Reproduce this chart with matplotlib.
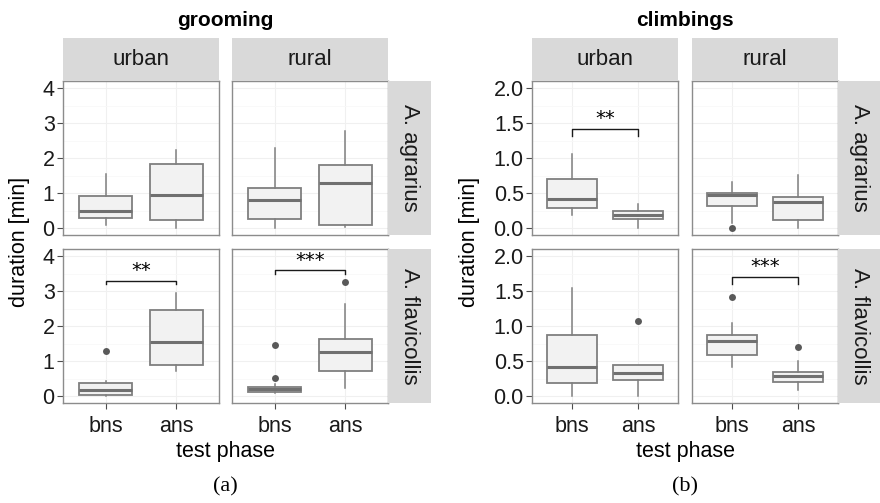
import matplotlib
matplotlib.use('Agg')
import matplotlib.pyplot as plt
from matplotlib.ticker import FixedLocator

W, H = 880, 503

phases = ['bns', 'ans']
sites = ['urban', 'rural']
species = ['A. agrarius', 'A. flavicollis']

# box statistics, indexed [species][site][phase]
groom_whislo = [[[0.10, 0.00], [0.00, 0.02]], [[0.00, 0.71], [0.08, 0.22]]]
groom_q1 = [[[0.29, 0.24], [0.27, 0.09]], [[0.03, 0.90], [0.12, 0.72]]]
groom_med = [[[0.50, 0.93], [0.80, 1.29]], [[0.17, 1.53], [0.20, 1.27]]]
groom_q3 = [[[0.91, 1.82], [1.14, 1.79]], [[0.38, 2.47], [0.27, 1.63]]]
groom_whishi = [[[1.53, 2.24], [2.30, 2.78]], [[0.43, 2.95], [0.34, 2.64]]]
groom_fliers = [[[[], []], [[], []]], [[[1.28], []], [[0.51, 1.47], [3.25]]]]
groom_sig = [['', ''], ['**', '***']]
groom_sig_y = [[None, None], [3.30, 3.59]]

climb_whislo = [[[0.19, 0.00], [0.07, 0.00]], [[0.00, 0.00], [0.42, 0.09]]]
climb_q1 = [[[0.29, 0.13], [0.31, 0.12]], [[0.19, 0.23], [0.58, 0.20]]]
climb_med = [[[0.42, 0.18], [0.47, 0.37]], [[0.42, 0.33], [0.79, 0.28]]]
climb_q3 = [[[0.70, 0.25], [0.50, 0.45]], [[0.87, 0.44], [0.87, 0.34]]]
climb_whishi = [[[1.06, 0.34], [0.66, 0.76]], [[1.55, 0.44], [1.05, 0.50]]]
climb_fliers = [[[[], []], [[0.0], []]], [[[], [1.07]], [[1.41], [0.70]]]]
climb_sig = [['**', ''], ['', '***']]
climb_sig_y = [[1.41, None], [None, 1.70]]

FONT = 'Liberation Sans'
STRIP = '#d9d9d9'
BORDER = '#8c8c8c'
BOXC = '#7f7f7f'


def fax(fig, x0, y0, x1, y1):
    # pixel box (top-left origin) -> figure axes
    return fig.add_axes([x0 / W, 1 - y1 / H, (x1 - x0) / W, (y1 - y0) / H])


def strip(fig, box, label, rot=0):
    ax = fax(fig, *box)
    ax.set_facecolor(STRIP)
    for s in ax.spines.values():
        s.set_visible(False)
    ax.set_xticks([])
    ax.set_yticks([])
    ax.text(0.5, 0.5, label, transform=ax.transAxes, ha='center',
            va='center', rotation=rot, fontsize=16, family=FONT,
            color='#1a1a1a')


def facet(fig, cols, rows, strip_right, title, title_x, ylab_x,
          lab_x, tag, ylim, yticks, yfmt, minor, drop, stats, fliers,
          sig, sig_y):
    whislo, q1, med, q3, whishi = stats
    for i in range(2):
        for j in range(2):
            x0, x1 = cols[j]
            y0, y1 = rows[i]
            ax = fax(fig, x0, y0, x1, y1)
            bs = []
            for k in range(2):
                bs.append(dict(whislo=whislo[i][j][k], q1=q1[i][j][k],
                               med=med[i][j][k], q3=q3[i][j][k],
                               whishi=whishi[i][j][k],
                               fliers=fliers[i][j][k]))
            ax.bxp(bs, positions=[1, 2], widths=0.75, patch_artist=True,
                   showcaps=False,
                   boxprops=dict(facecolor='#f2f2f2', edgecolor=BOXC,
                                 lw=1.3),
                   medianprops=dict(color='#707070', lw=2.2),
                   whiskerprops=dict(color=BOXC, lw=1.1),
                   flierprops=dict(marker='o', markerfacecolor='#595959',
                                   markeredgecolor='none', markersize=5))
            ax.set_xlim(0.4, 2.6)
            ax.set_ylim(*ylim)
            ax.set_yticks(yticks)
            ax.yaxis.set_minor_locator(FixedLocator(minor))
            ax.grid(True, which='major', color='#f0f0f0', lw=0.8)
            ax.grid(True, which='minor', axis='y', color='#f8f8f8', lw=0.6)
            ax.set_axisbelow(True)
            for s in ax.spines.values():
                s.set_color(BORDER)
                s.set_linewidth(1.0)
            ax.tick_params(which='minor', length=0)
            ax.tick_params(which='major', length=4, color='#4d4d4d',
                           labelsize=15.5, labelcolor='#1a1a1a', pad=2)
            ax.tick_params(axis='x', pad=5)
            ax.set_xticks([1, 2])
            if j == 0:
                ax.set_yticklabels([yfmt % v for v in yticks],
                                   family=FONT)
            else:
                ax.tick_params(axis='y', length=0, labelleft=False)
            if i == 1:
                ax.set_xticklabels(phases, family=FONT)
            else:
                ax.tick_params(axis='x', length=0, labelbottom=False)
            if sig[i][j]:
                y = sig_y[i][j]
                ax.plot([1, 1, 2, 2], [y - drop, y, y, y - drop],
                        color='#1a1a1a', lw=1.0)
                ax.text(1.5, y + drop * 0.2, sig[i][j], ha='center',
                        va='bottom', fontsize=14, family='DejaVu Sans')
    for j in range(2):
        strip(fig, (cols[j][0], 38, cols[j][1], 81), sites[j])
    for i in range(2):
        strip(fig, (cols[1][1], rows[i][0], strip_right, rows[i][1]),
              species[i], rot=-90)
    fig.text(title_x / W, 1 - 20 / H, title, ha='center', va='center',
             fontsize=15, fontweight='bold', family=FONT)
    fig.text(ylab_x / W, 1 - 242 / H, 'duration [min]', ha='center',
             va='center', rotation=90, fontsize=15.5, family=FONT)
    fig.text(lab_x / W, 1 - 451 / H, 'test phase', ha='center',
             va='center', fontsize=15.5, family=FONT)
    fig.text(lab_x / W, 1 - 487 / H, tag, ha='center', va='center',
             fontsize=16, family='Liberation Serif')


fig = plt.figure(figsize=(W / 100, H / 100), dpi=100)
rows = [(81, 235), (249, 403)]

facet(fig, [(63, 219), (232, 388)], rows, 431, 'grooming', 225, 20,
      225, '(a)', (-0.2, 4.2), [0, 1, 2, 3, 4], '%d',
      [0.5, 1.5, 2.5, 3.5], 0.1,
      (groom_whislo, groom_q1, groom_med, groom_q3, groom_whishi),
      groom_fliers, groom_sig, groom_sig_y)

facet(fig, [(532, 678), (692, 838)], rows, 880, 'climbings', 685,
      469, 685, '(b)', (-0.1, 2.1), [0.0, 0.5, 1.0, 1.5, 2.0], '%.1f',
      [0.25, 0.75, 1.25, 1.75], 0.1,
      (climb_whislo, climb_q1, climb_med, climb_q3, climb_whishi),
      climb_fliers, climb_sig, climb_sig_y)

fig.savefig('out.png', dpi=100)
